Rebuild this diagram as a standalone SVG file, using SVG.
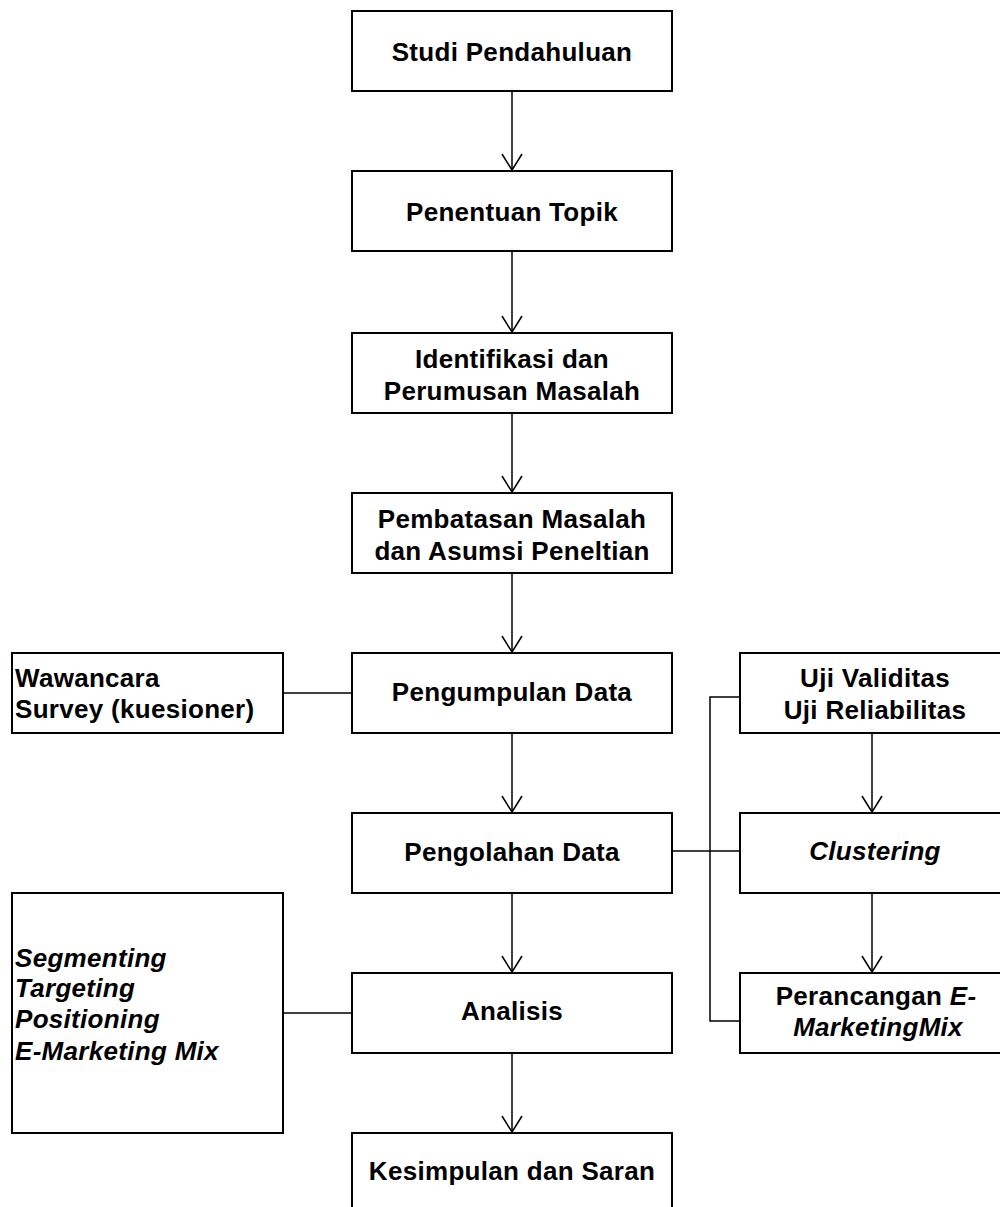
<svg xmlns="http://www.w3.org/2000/svg" width="1000" height="1207" viewBox="0 0 1000 1207">
<style>
.box{fill:#fff;stroke:#000;stroke-width:2}
.ln{fill:none;stroke:#000;stroke-width:1.5}
.t{font-family:"Liberation Sans",Arial,sans-serif;font-weight:bold;font-size:26px;fill:#000;letter-spacing:0.3px}
.c{text-anchor:middle}
.i{font-style:italic}
</style>
<defs>
<marker id="arr" markerUnits="userSpaceOnUse" viewBox="-18 -12 20 24" refX="0" refY="0" markerWidth="20" markerHeight="24" orient="auto">
<path d="M-16,-10 L0,0 L-16,10" fill="none" stroke="#000" stroke-width="1.5"/>
</marker>
</defs>
<rect width="1000" height="1207" fill="#fff"/>
<g id="connectors">
<line class="ln" x1="512" y1="91" x2="512" y2="170" marker-end="url(#arr)"/>
<line class="ln" x1="512" y1="251" x2="512" y2="332" marker-end="url(#arr)"/>
<line class="ln" x1="512" y1="413" x2="512" y2="492" marker-end="url(#arr)"/>
<line class="ln" x1="512" y1="573" x2="512" y2="652" marker-end="url(#arr)"/>
<line class="ln" x1="512" y1="733" x2="512" y2="812" marker-end="url(#arr)"/>
<line class="ln" x1="512" y1="893" x2="512" y2="972" marker-end="url(#arr)"/>
<line class="ln" x1="512" y1="1053" x2="512" y2="1132" marker-end="url(#arr)"/>
<line class="ln" x1="872" y1="733" x2="872" y2="812" marker-end="url(#arr)"/>
<line class="ln" x1="872" y1="893" x2="872" y2="972" marker-end="url(#arr)"/>
<line class="ln" x1="283" y1="693" x2="352" y2="693"/>
<line class="ln" x1="283" y1="1013" x2="352" y2="1013"/>
<line class="ln" x1="672" y1="851" x2="740" y2="851"/>
<path class="ln" d="M740,697 H710 V1021 H740"/>
</g>
<g id="studi"><rect class="box" x="352" y="11" width="320" height="80"/><text class="t c" x="512" y="61">Studi Pendahuluan</text></g>
<g id="topik"><rect class="box" x="352" y="171" width="320" height="80"/><text class="t c" x="512" y="221">Penentuan Topik</text></g>
<g id="identifikasi"><rect class="box" x="352" y="333" width="320" height="80"/><text class="t c" x="512" y="368">Identifikasi dan</text><text class="t c" x="512" y="400">Perumusan Masalah</text></g>
<g id="pembatasan"><rect class="box" x="352" y="493" width="320" height="80"/><text class="t c" x="512" y="528">Pembatasan Masalah</text><text class="t c" x="512" y="560">dan Asumsi Peneltian</text></g>
<g id="pengumpulan"><rect class="box" x="352" y="653" width="320" height="80"/><text class="t c" x="512" y="701">Pengumpulan Data</text></g>
<g id="pengolahan"><rect class="box" x="352" y="813" width="320" height="80"/><text class="t c" x="512" y="861">Pengolahan Data</text></g>
<g id="analisis"><rect class="box" x="352" y="973" width="320" height="80"/><text class="t c" x="512" y="1020">Analisis</text></g>
<g id="kesimpulan"><rect class="box" x="352" y="1133" width="320" height="100"/><text class="t c" x="512" y="1180">Kesimpulan dan Saran</text></g>
<g id="wawancara"><rect class="box" x="12" y="653" width="271" height="80"/><text class="t" x="15" y="687">Wawancara</text><text class="t" x="15" y="718">Survey (kuesioner)</text></g>
<g id="stp"><rect class="box" x="12" y="893" width="271" height="240"/><text class="t i" x="15" y="967">Segmenting</text><text class="t i" x="15" y="997">Targeting</text><text class="t i" x="15" y="1028">Positioning</text><text class="t i" x="15" y="1060">E-Marketing Mix</text></g>
<g id="uji"><rect class="box" x="740" y="653" width="280" height="80"/><text class="t c" x="875" y="687">Uji Validitas</text><text class="t c" x="875" y="719">Uji Reliabilitas</text></g>
<g id="clustering"><rect class="box" x="740" y="813" width="280" height="80"/><text class="t c i" x="875" y="860">Clustering</text></g>
<g id="perancangan"><rect class="box" x="740" y="973" width="280" height="80"/><text class="t c" x="876" y="1005">Perancangan <tspan class="i">E-</tspan></text><text class="t c i" x="878" y="1036">MarketingMix</text></g>
</svg>
